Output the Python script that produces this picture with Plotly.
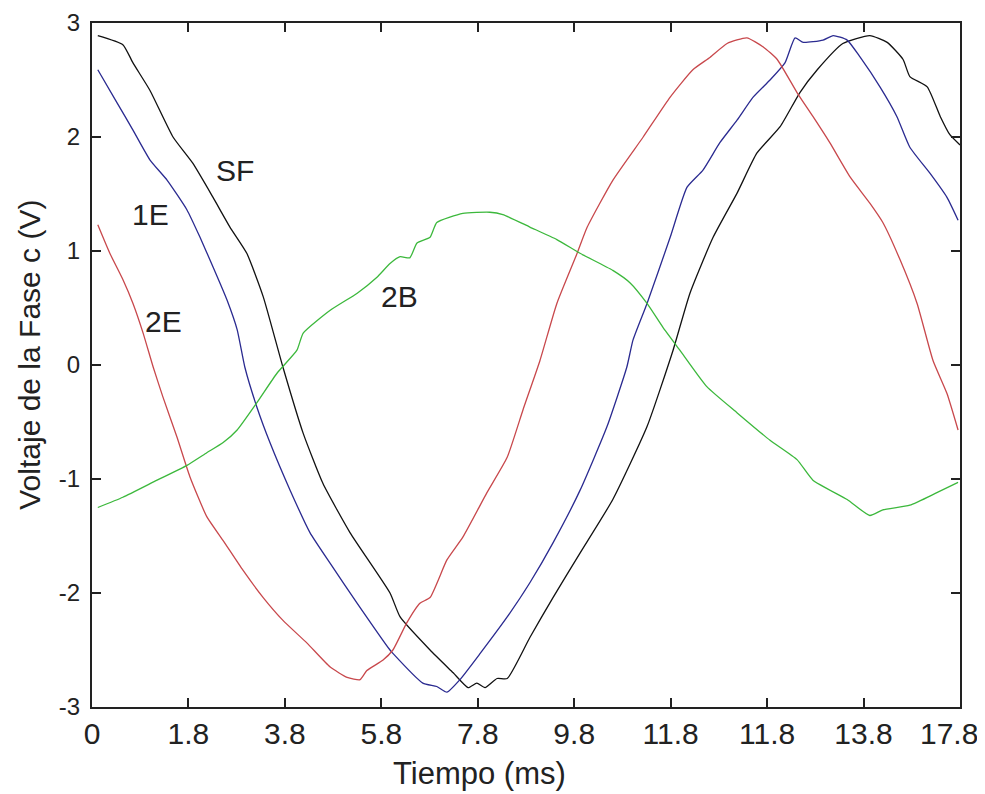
import plotly.graph_objects as go

# Axis positions (x axis is 0..18, labelled with the original tick texts)
tick_vals = [0, 2, 4, 6, 8, 10, 12, 14, 16, 18]
tick_text = ["0", "1.8", "3.8", "5.8", "7.8", "9.8", "11.8", "11.8", "13.8", "17.8"]
y_ticks = [-3, -2, -1, 0, 1, 2, 3]
y_tick_text = ["-3", "-2", "-1", "0", "1", "2", "3"]
x_title = "Tiempo (ms)"
y_title = "Voltaje de la Fase c (V)"

sf_x = [0.12, 0.64, 0.85, 1.20, 1.68, 2.09, 2.51, 2.86, 3.21, 3.55, 3.96, 4.38, 4.79, 5.35,
        6.18, 6.39, 7.01, 7.49, 7.80, 7.98, 8.15, 8.40, 8.61, 9.08, 9.56, 10.12, 10.80, 11.51,
        12.05, 12.40, 12.88, 13.38, 13.79, 14.27, 14.68, 15.04, 15.57, 16.13, 16.49, 16.82,
        16.96, 17.32, 17.59, 17.79, 18.0]
sf_y = [2.89, 2.81, 2.65, 2.41, 2.00, 1.77, 1.47, 1.21, 0.98, 0.60, -0.02, -0.60, -1.04, -1.47,
        -2.00, -2.21, -2.50, -2.70, -2.83, -2.79, -2.83, -2.75, -2.75, -2.39, -2.04, -1.65, -1.18, -0.54,
        0.13, 0.63, 1.12, 1.51, 1.86, 2.09, 2.39, 2.59, 2.82, 2.89, 2.83, 2.68,
        2.53, 2.44, 2.18, 2.02, 1.93]

e1_x = [0.12, 0.52, 0.85, 1.20, 1.56, 1.97, 2.24, 2.51, 2.80, 3.01, 3.17, 3.42, 3.69, 4.11,
        4.52, 4.94, 5.50, 6.18, 6.24, 6.86, 7.15, 7.36, 7.63, 8.05, 8.61, 9.08, 9.56, 10.12,
        10.68, 11.09, 11.22, 11.51, 11.99, 12.34, 12.67, 13.02, 13.38, 13.71, 14.06, 14.37,
        14.58, 14.75, 15.16, 15.37, 15.66, 15.93, 16.34, 16.69, 16.96, 17.38, 17.73, 17.96]
e1_y = [2.59, 2.30, 2.06, 1.80, 1.62, 1.36, 1.12, 0.86, 0.57, 0.31, -0.02, -0.37, -0.68, -1.10,
        -1.47, -1.74, -2.09, -2.50, -2.53, -2.79, -2.82, -2.87, -2.76, -2.53, -2.21, -1.91, -1.56, -1.10,
        -0.54, -0.02, 0.22, 0.54, 1.12, 1.56, 1.71, 1.95, 2.15, 2.35, 2.50, 2.65,
        2.87, 2.83, 2.85, 2.89, 2.85, 2.70, 2.44, 2.18, 1.91, 1.68, 1.47, 1.27]

e2_x = [0.12, 0.37, 0.64, 0.85, 1.06, 1.27, 1.47, 1.76, 2.03, 2.38, 2.72, 3.13, 3.55, 3.96,
        4.46, 4.94, 5.29, 5.56, 5.70, 6.03, 6.24, 6.53, 6.80, 7.01, 7.36, 7.69, 8.19, 8.61,
        8.94, 9.29, 9.64, 10.06, 10.27, 10.80, 11.43, 11.99, 12.46, 12.82, 13.17, 13.58,
        13.92, 14.21, 14.62, 14.95, 15.30, 15.72, 16.13, 16.40, 16.76, 17.11, 17.44, 17.73, 17.96]
e2_y = [1.23, 0.98, 0.75, 0.54, 0.28, -0.02, -0.28, -0.63, -0.98, -1.33, -1.54, -1.80, -2.04, -2.24,
        -2.44, -2.65, -2.74, -2.76, -2.68, -2.59, -2.50, -2.26, -2.09, -2.04, -1.71, -1.51, -1.12, -0.81,
        -0.39, 0.04, 0.54, 0.98, 1.21, 1.62, 2.00, 2.35, 2.59, 2.70, 2.82, 2.87,
        2.79, 2.68, 2.39, 2.18, 1.95, 1.65, 1.42, 1.25, 0.92, 0.54, 0.04, -0.25, -0.57]

b2_x = [0.12, 0.64, 1.35, 1.97, 2.38, 2.72, 3.01, 3.42, 3.84, 4.25, 4.38, 4.94, 5.50, 5.91,
        6.18, 6.39, 6.59, 6.74, 7.01, 7.15, 7.69, 8.25, 8.52, 9.08, 9.64, 10.12, 10.80, 11.16,
        11.51, 11.84, 12.19, 12.75, 13.38, 14.06, 14.62, 14.95, 15.66, 16.13, 16.40, 16.96,
        17.52, 17.96]
b2_y = [-1.25, -1.16, -1.01, -0.88, -0.77, -0.68, -0.57, -0.33, -0.07, 0.13, 0.28, 0.48, 0.63, 0.77,
        0.89, 0.95, 0.94, 1.07, 1.12, 1.25, 1.33, 1.34, 1.32, 1.21, 1.10, 0.98, 0.83, 0.72,
        0.54, 0.33, 0.13, -0.19, -0.42, -0.66, -0.83, -1.01, -1.18, -1.32, -1.27, -1.23,
        -1.12, -1.03]

label_names = ["SF", "1E", "2E", "2B"]
label_x = [2.97, 1.22, 1.49, 6.37]
label_y = [1.71, 1.32, 0.38, 0.60]

FONT = "Arial, Liberation Sans, sans-serif"
TXT = "#222222"

fig = go.Figure()
series = [
    (sf_x, sf_y, "#111111", "SF"),
    (e1_x, e1_y, "#2a2a90", "1E"),
    (e2_x, e2_y, "#c8484c", "2E"),
    (b2_x, b2_y, "#3cb83c", "2B"),
]
for xs, ys, col, nm in series:
    fig.add_trace(go.Scatter(x=xs, y=ys, mode="lines", name=nm,
                             line=dict(color=col, width=1.3, shape="spline", smoothing=0.5),
                             showlegend=False))

for nm, lx, ly in zip(label_names, label_x, label_y):
    fig.add_annotation(x=lx, y=ly, text=nm, showarrow=False,
                       font=dict(family=FONT, size=30, color=TXT),
                       xanchor="center", yanchor="middle")

# The last x tick label sits slightly left of its tick (as in the original), so it is
# drawn as a text annotation at that tick instead of the axis label.
axis_labels = list(tick_text)
last_label = axis_labels[-1]
axis_labels[-1] = ""
fig.add_annotation(x=tick_vals[-1], xref="x", y=0, yref="paper", text=last_label,
                   showarrow=False, xanchor="center", yanchor="middle",
                   xshift=-11, yshift=-26,
                   font=dict(family=FONT, size=30, color=TXT))

# Axis titles (placed off-centre as in the original)
fig.add_annotation(x=0.447, xref="paper", y=0, yref="paper", text=x_title,
                   showarrow=False, xanchor="center", yanchor="middle", yshift=-66,
                   font=dict(family=FONT, size=31, color=TXT))
fig.add_annotation(x=0, xref="paper", y=0.515, yref="paper", text=y_title,
                   showarrow=False, xanchor="center", yanchor="middle", xshift=-62,
                   textangle=-90, font=dict(family=FONT, size=30, color=TXT))

# The page body adds an 8px offset, so the figure is sized/margined to compensate.
fig.update_layout(
    width=977, height=786,
    margin=dict(l=84, r=25, t=15, b=87),
    paper_bgcolor="white", plot_bgcolor="white",
    font=dict(family=FONT, color=TXT),
)
fig.update_xaxes(
    range=[0, 18], tickmode="array", tickvals=tick_vals, ticktext=axis_labels,
    ticks="inside", ticklen=9, tickwidth=1.5, tickcolor=TXT,
    showline=True, linecolor=TXT, linewidth=2, mirror="ticks",
    showgrid=False, zeroline=False, automargin=False,
    ticklabeloverflow="allow", ticklabelstandoff=-1,
    tickfont=dict(family=FONT, size=30, color=TXT),
)
fig.update_yaxes(
    range=[-3, 3], tickmode="array", tickvals=y_ticks, ticktext=y_tick_text,
    ticks="inside", ticklen=9, tickwidth=1.5, tickcolor=TXT,
    showline=True, linecolor=TXT, linewidth=2, mirror="ticks",
    showgrid=False, zeroline=False, automargin=False,
    ticklabeloverflow="allow", ticklabelstandoff=5,
    tickfont=dict(family=FONT, size=24, color=TXT),
)

fig.write_html("out.html")
